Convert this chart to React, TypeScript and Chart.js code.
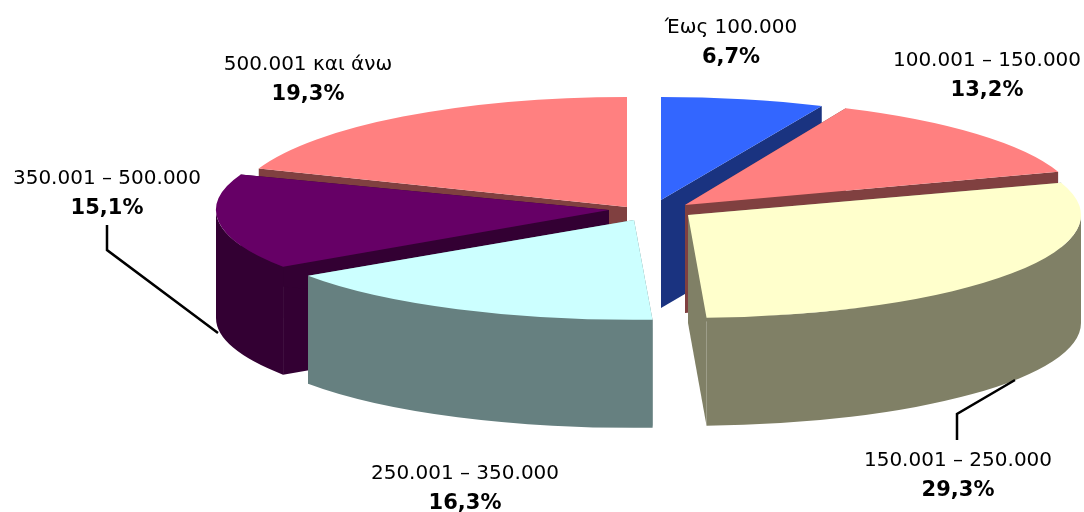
import React, { useEffect, useRef } from "react";
import { Chart, registerables } from "chart.js";

Chart.register(...registerables);

const categories = ["Έως 100.000", "100.001 – 150.000", "150.001 – 250.000", "250.001 – 350.000", "350.001 – 500.000", "500.001 και άνω"];
const values = [6.7, 13.2, 29.3, 16.3, 15.1, 19.3];
const topColors = ["#3366FF", "#FF8080", "#FFFFCC", "#CCFFFF", "#660066", "#FF8080"];
const wallColors = ["#1A3380", "#804040", "#808066", "#668080", "#330033", "#804040"];

const FONT = '"DejaVu Sans"';
const TILTS = [0.262, 0.27, 0.262, 0.254, 0.258, 0.28];
const DEPTH = 108;
const RADIUS = 393;
const APEX: [number, number][] = [[16, -10], [40, -5], [43, 5], [-11, 10], [-36, 0], [-18, -3]];
const DRAW_ORDER = [5, 0, 1, 2, 4, 3];
const LABEL_POS: [number, number][] = [[731, 33], [987, 66], [958, 466], [465, 479], [107, 184], [308, 70]];
const LEADERS: [number, number][][] = [
  [[957, 440], [957, 414], [1015, 380]],
  [[107, 225], [107, 250], [218, 333]],
];

const pie3d = {
  id: "pie3d",
  beforeDatasetsDraw(chart: any) {
    const ctx = chart.ctx;
    const arcs = chart.getDatasetMeta(0).data;
    for (const i of DRAW_ORDER) {
      const arc = arcs[i];
      const tilt = TILTS[i];
      const cx = arc.x + APEX[i][0];
      const cy = arc.y + APEX[i][1];
      const a0 = arc.startAngle;
      const a1 = arc.endAngle;
      const r = arc.outerRadius;
      ctx.save();
      ctx.fillStyle = wallColors[i];
      for (const a of [a0, a1]) {
        const px = cx + r * Math.cos(a);
        const py = cy + tilt * r * Math.sin(a);
        ctx.beginPath();
        ctx.moveTo(cx, cy);
        ctx.lineTo(px, py);
        ctx.lineTo(px, py + DEPTH);
        ctx.lineTo(cx, cy + DEPTH);
        ctx.closePath();
        ctx.fill();
      }
      const v0 = Math.max(a0, 0);
      const v1 = Math.min(a1, Math.PI);
      if (v1 > v0) {
        ctx.beginPath();
        ctx.ellipse(cx, cy, r, r * tilt, 0, v0, v1, false);
        ctx.ellipse(cx, cy + DEPTH, r, r * tilt, 0, v1, v0, true);
        ctx.closePath();
        ctx.fill();
      }
      ctx.restore();
      ctx.save();
      ctx.translate(cx, cy);
      ctx.scale(1, tilt);
      ctx.translate(-arc.x, -arc.y);
      arc.draw(ctx);
      ctx.restore();
    }
    return false;
  },
  afterDraw(chart: any) {
    const ctx = chart.ctx;
    ctx.save();
    ctx.strokeStyle = "#000";
    ctx.lineWidth = 2.5;
    for (const line of LEADERS) {
      ctx.beginPath();
      line.forEach(([x, y], k) => (k ? ctx.lineTo(x, y) : ctx.moveTo(x, y)));
      ctx.stroke();
    }
    ctx.fillStyle = "#000";
    ctx.textAlign = "center";
    ctx.textBaseline = "middle";
    categories.forEach((c, i) => {
      const [x, y] = LABEL_POS[i];
      ctx.font = `20px ${FONT}`;
      ctx.fillText(c, x, y - 5);
      ctx.font = `bold 21px ${FONT}`;
      ctx.fillText(values[i].toFixed(1).replace(".", ",") + "%", x, y + 25);
    });
    ctx.restore();
  },
};

export default function App() {
  const ref = useRef<HTMLCanvasElement>(null);
  useEffect(() => {
    document.body.style.margin = "0";
    const chart = new Chart(ref.current!, {
      type: "pie",
      data: {
        labels: categories,
        datasets: [{ data: values, backgroundColor: topColors, borderWidth: 0 }],
      },
      options: {
        responsive: false,
        animation: false,
        radius: RADIUS,
        layout: { padding: { left: 206, top: 0, right: 0, bottom: 92 } },
        plugins: { legend: { display: false }, tooltip: { enabled: false } },
      } as any,
      plugins: [pie3d],
    });
    return () => chart.destroy();
  }, []);
  return <canvas ref={ref} width={1084} height={512} style={{ display: "block" }} />;
}
